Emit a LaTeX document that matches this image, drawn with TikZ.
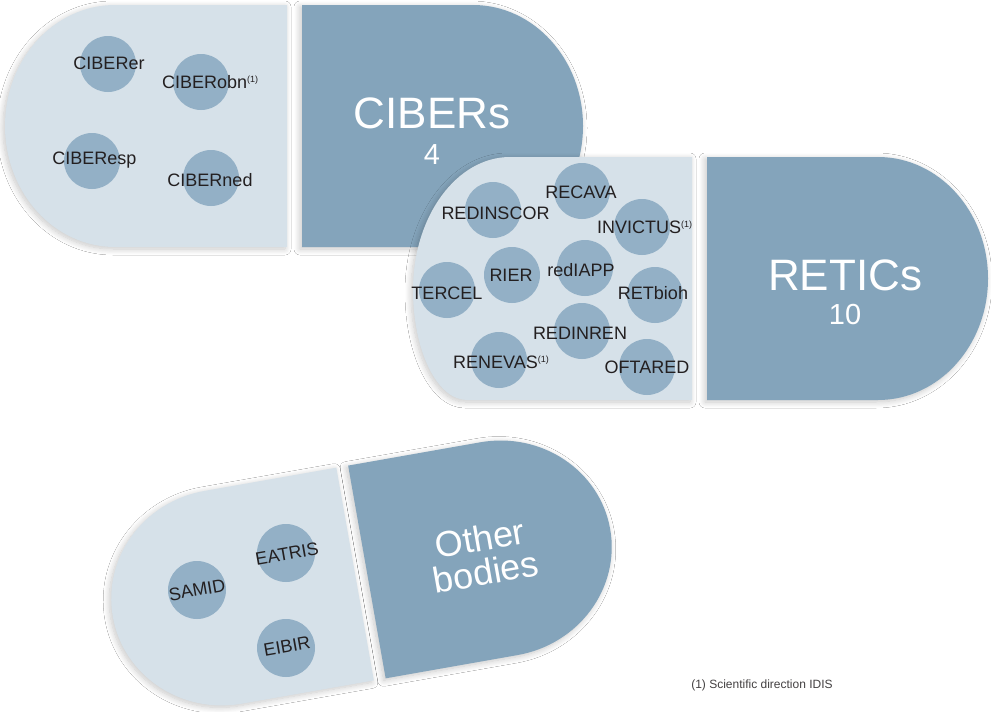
\documentclass[tikz,border=0pt]{standalone}
\usepackage{fontspec}
\setmainfont{Liberation Sans}
\usetikzlibrary{shadows.blur}
\definecolor{capLight}{HTML}{D6E1E9}
\definecolor{capDark}{HTML}{84A4BB}
\definecolor{bubFill}{HTML}{93B0C6}
\definecolor{inkText}{HTML}{231F20}
\newcommand{\supone}{\raisebox{0.6ex}{\fontsize{9}{9}\selectfont(1)}}
\begin{document}
\begin{tikzpicture}[x=1pt,y=1pt,
  softshadow/.style={blur shadow={shadow xshift=-2pt, shadow yshift=-2pt, shadow blur radius=6pt, shadow blur steps=12, shadow opacity=22}},
  lightpart/.style={fill=capLight, softshadow},
  darkpart/.style={fill=capDark, softshadow},
  bub/.style={circle, fill=bubFill, minimum size=56pt, inner sep=0pt},
  bigbub/.style={bub, minimum size=58pt},
  lbl/.style={inner sep=0pt, text=inkText, font=\fontsize{18}{18}\selectfont},
  title/.style={inner sep=0pt, text=white, font=\fontsize{44}{44}\selectfont},
  count/.style={inner sep=0pt, text=white, font=\fontsize{29}{29}\selectfont}]
\path[fill=white] (0,0) rectangle (991,-712);
\useasboundingbox (0,0) rectangle (991,-712);

% ---- CIBERs capsule ----
\path[lightpart] (287,-5) -- (115,-5) arc[start angle=90, end angle=270, x radius=110, y radius=121] -- (287,-247) -- cycle;
\path[darkpart] (302,-5) -- (473,-5) arc[start angle=90, end angle=-90, x radius=110, y radius=121] -- (302,-247) -- cycle;

\node[bub] (bcer) at (108,-64) {};
\node[bub] (bcobn) at (201,-82) {};
\node[bub] (bcesp) at (92,-161) {};
\node[bub] (bcned) at (211,-178) {};
\node[lbl] (tcer) at (109,-63) {CIBERer};
\node[lbl, anchor=west] (tcobn) at (162,-82) {CIBERobn\supone};
\node[lbl] (tcesp) at (94.5,-160) {CIBEResp};
\node[lbl] (tcned) at (210,-180) {CIBERned};

\node[title] (tciber) at (432,-113) {CIBERs};
\node[count] (nciber) at (432,-155) {4};

% ---- RETICs capsule ----
\path[lightpart] (692,-157) -- (510,-157) arc[start angle=90, end angle=180, x radius=97, y radius=133]
  arc[start angle=180, end angle=270, x radius=54, y radius=110] -- (692,-400) -- cycle;
\path[darkpart] (707,-157) -- (878,-157) arc[start angle=90, end angle=-90, x radius=110, y radius=121.5] -- (707,-400) -- cycle;

\node[bub] (brdsc) at (493,-210) {};
\node[bub] (brcav) at (582,-191) {};
\node[bub] (binv) at (642,-227) {};
\node[bub] (bter) at (447,-290) {};
\node[bub] (brier) at (512,-275) {};
\node[bub] (biapp) at (585,-268) {};
\node[bub] (bbioh) at (655,-295) {};
\node[bub] (brdr) at (582,-331) {};
\node[bub] (bnev) at (499,-360) {};
\node[bub] (boft) at (647,-367) {};

\node[lbl] (trdsc) at (495.5,-213) {REDINSCOR};
\node[lbl] (trcav) at (581,-192) {RECAVA};
\node[lbl, anchor=west] (tinv) at (597,-227) {INVICTUS\supone};
\node[lbl] (tter) at (447,-293) {TERCEL};
\node[lbl] (trier) at (511,-275) {RIER};
\node[lbl] (tiapp) at (581,-270) {redIAPP};
\node[lbl] (tbioh) at (653,-293) {RETbioh};
\node[lbl] (trdr) at (580,-333) {REDINREN};
\node[lbl, anchor=west] (tnev) at (453,-362) {RENEVAS\supone};
\node[lbl] (toft) at (647,-367) {OFTARED};

\node[title] (treti) at (845,-275) {RETICs};
\node[count] (nreti) at (845,-315) {10};

% ---- Other bodies capsule ----
\begin{scope}[shift={(361,-573)}, rotate=10]
\path[lightpart] (-6,108) -- (-140,108) arc[start angle=90, end angle=270, x radius=112, y radius=108] -- (-6,-108) -- cycle;
\path[darkpart] (6,108) -- (140,108) arc[start angle=90, end angle=-90, x radius=113, y radius=108] -- (6,-108) -- cycle;
\end{scope}

\node[bigbub] (bsam) at (197,-590) {};
\node[bigbub] (beat) at (286,-553) {};
\node[bigbub] (beib) at (286,-648) {};
\node[lbl, rotate=10] (tsam) at (197,-590) {SAMID};
\node[lbl, rotate=10] (teat) at (287,-554) {EATRIS};
\node[lbl, rotate=10] (teib) at (287,-646) {EIBIR};

\node[inner sep=0pt, text=white, align=center, rotate=10,
  font=\fontsize{36}{34}\selectfont] (tother) at (483,-555) {Other\\bodies};

% ---- footnote ----
\node[inner sep=0pt, text=inkText!85, font=\fontsize{12}{12}\selectfont] (fnote) at (762,-685) {(1) Scientific direction IDIS};
\end{tikzpicture}
\end{document}
